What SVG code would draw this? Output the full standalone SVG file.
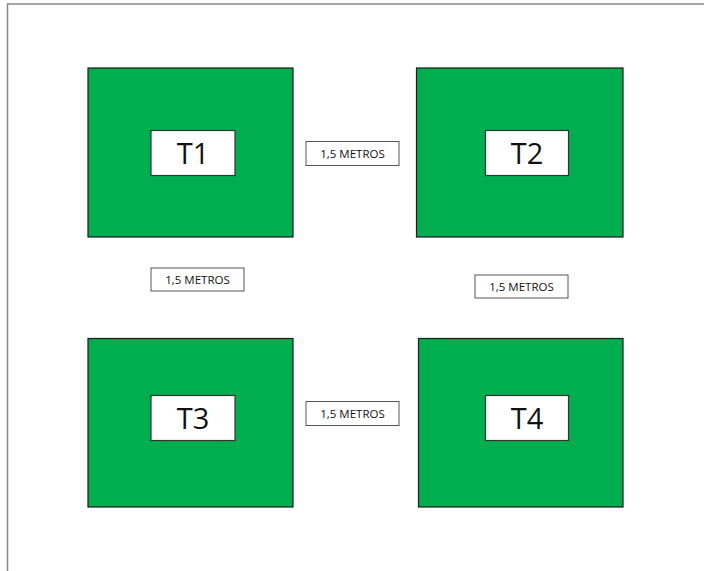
<svg xmlns="http://www.w3.org/2000/svg" width="704" height="571" viewBox="0 0 704 571">
<style>
.field{fill:#00ad4f;stroke:#1a1a1a;stroke-width:1.2}
.tag{fill:#fff;stroke:#333;stroke-width:1.2}
.tt{font-family:"Open Sans","Liberation Sans",sans-serif;font-size:29px;fill:#111;text-anchor:middle}
.lbl{fill:#fff;stroke:#555;stroke-width:1}
.lt{font-family:"Open Sans","Liberation Sans",sans-serif;font-size:11.5px;fill:#111;text-anchor:middle}
</style>
<rect width="704" height="571" fill="#fff"/>
<rect x="7.5" y="4" width="800" height="700" fill="none" stroke="#888" stroke-width="1.5"/>
<g id="T1">
<rect class="field" x="88" y="68" width="205" height="169"/>
<rect class="tag" x="151" y="130.5" width="84" height="45"/>
<text class="tt" x="193" y="163.5">T1</text>
</g>
<g id="T2">
<rect class="field" x="416.5" y="68" width="206.5" height="169"/>
<rect class="tag" x="485.5" y="130.5" width="83" height="45"/>
<text class="tt" x="527" y="163.5">T2</text>
</g>
<g id="T3">
<rect class="field" x="88" y="338.5" width="205" height="168.5"/>
<rect class="tag" x="151" y="395.5" width="84" height="45"/>
<text class="tt" x="193" y="428.5">T3</text>
</g>
<g id="T4">
<rect class="field" x="418.5" y="338.5" width="204.5" height="168.5"/>
<rect class="tag" x="485.5" y="395.5" width="83" height="45"/>
<text class="tt" x="527" y="428.5">T4</text>
</g>
<g id="labels">
<g id="L12"><rect class="lbl" x="306" y="141.5" width="93" height="24"/><text class="lt" x="352.5" y="157.5">1,5 METROS</text></g>
<g id="L13"><rect class="lbl" x="151" y="268" width="93" height="23"/><text class="lt" x="197.5" y="283.5">1,5 METROS</text></g>
<g id="L24"><rect class="lbl" x="475" y="275" width="93" height="23"/><text class="lt" x="521.5" y="290.5">1,5 METROS</text></g>
<g id="L34"><rect class="lbl" x="306" y="401.5" width="93" height="24"/><text class="lt" x="352.5" y="417.5">1,5 METROS</text></g>
</g>
</svg>
